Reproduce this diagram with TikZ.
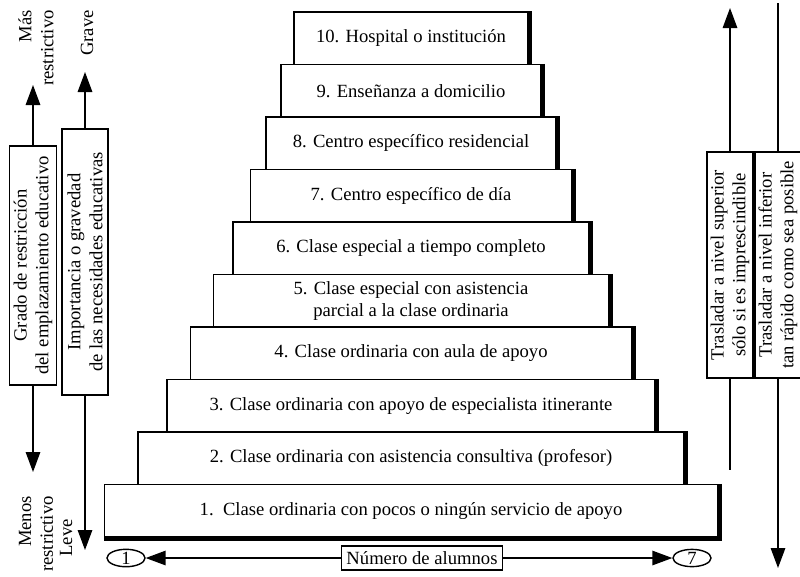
\documentclass[tikz,border=0pt]{standalone}
\usepackage{fontspec}
\setmainfont{Liberation Serif}
\usetikzlibrary{arrows.meta,shapes.geometric}
\begin{document}
\begin{tikzpicture}[x=0.02cm,y=-0.02cm,font=\fontsize{10.6}{12.4}\selectfont]
        \tikzstyle{stepbox}=[draw,line width=0.8pt,minimum height=10.5mm,inner sep=2pt,align=center]
        \tikzstyle{sidebox}=[draw,line width=0.8pt,rotate=90,align=center,inner sep=2pt]
        \tikzstyle{bigarrow}=[line width=0.8pt,-{Triangle[length=4mm,width=2.9mm]}]
        \tikzstyle{plainline}=[line width=0.8pt]
        \tikzstyle{shade}=[line width=2.2pt]
        \tikzstyle{endmark}=[draw,ellipse,line width=0.8pt,minimum width=7.6mm,minimum height=3.4mm,inner sep=0pt]
        \useasboundingbox (0,0) rectangle (800,576);
        \node[stepbox,minimum width=122.6mm] (l1) at (411,510.75) {1.\ \ Clase ordinaria con pocos o ningún servicio de apoyo};
        \node[stepbox,minimum width=109.2mm] (l2) at (411,458.25) {2. Clase ordinaria con asistencia consultiva (profesor)};
        \node[stepbox,minimum width=97.6mm] (l3) at (411,405.75) {3. Clase ordinaria con apoyo de especialista itinerante};
        \node[stepbox,minimum width=88.2mm] (l4) at (411,353.25) {4. Clase ordinaria con aula de apoyo};
        \node[stepbox,minimum width=79mm] (l5) at (411,300.75) {5. Clase especial con asistencia\\ parcial a la clase ordinaria};
        \node[stepbox,minimum width=71.2mm] (l6) at (411,248.25) {6. Clase especial a tiempo completo};
        \node[stepbox,minimum width=64.2mm] (l7) at (411,195.75) {7. Centro específico de día};
        \node[stepbox,minimum width=58mm] (l8) at (411,143.25) {8. Centro específico residencial};
        \node[stepbox,minimum width=52mm] (l9) at (411,90.75) {9. Enseñanza a domicilio};
        \node[stepbox,minimum width=46.8mm] (l10) at (411,38.25) {10. Hospital o institución};
        \foreach \i in {1,...,10}
            \draw[shade] ([xshift=1pt]l\i.north east) -- ([xshift=1pt]l\i.south east);
        \draw[shade] ([yshift=-1pt]l1.south west) -- ([xshift=2.1pt,yshift=-1pt]l1.south east);

        \node[sidebox,minimum width=47.8mm,minimum height=9.4mm] (grado) at (33,265.5) {Grado de restricción\\del emplazamiento educativo};
        \node[sidebox,minimum width=53.2mm,minimum height=9.2mm] (importancia) at (85,262) {Importancia o gravedad\\de las necesidades educativas};
        \node[sidebox,minimum width=45.2mm,minimum height=9mm] (superior) at (730,265) {Trasladar a nivel superior\\sólo si es imprescindible};
        \node[sidebox,minimum width=45.2mm,minimum height=8.2mm] (inferior) at (778,265) {Trasladar a nivel inferior\\tan rápido como sea posible};

        \node[rotate=90,anchor=east,align=right] (mas) at (36,4) {Más\\restrictivo};
        \node[rotate=90,anchor=east,align=right] (menos) at (36,490) {Menos\\restrictivo};
        \node[rotate=90,anchor=west] (grave) at (87,62) {Grave};
        \node[rotate=90] (leve) at (66,538) {Leve};

        \coordinate (masTip) at (33,85);
        \coordinate (menosTip) at (33,472);
        \coordinate (graveTip) at (85,72);
        \coordinate (leveTip) at (85,550);
        \coordinate (subeTip) at (730,8);
        \coordinate (subeEnd) at (730,470);
        \coordinate (bajaTop) at (778,3);
        \coordinate (bajaTip) at (778,568);
        \draw[bigarrow] (grado.east) -- (masTip);
        \draw[bigarrow] (grado.west) -- (menosTip);
        \draw[bigarrow] (importancia.east) -- (graveTip);
        \draw[bigarrow] (importancia.west) -- (leveTip);
        \draw[bigarrow] (superior.east) -- (subeTip);
        \draw[plainline] (superior.west) -- (subeEnd);
        \draw[plainline] (bajaTop) -- (inferior.east);
        \draw[bigarrow] (inferior.west) -- (bajaTip);

        \node[draw,line width=0.8pt,inner sep=3pt] (alumnos) at (422,558) {Número de alumnos};
        \node[endmark] (uno) at (126,558) {1};
        \node[endmark] (siete) at (692,558) {7};
        \draw[bigarrow] (alumnos) -- (uno);
        \draw[bigarrow] (alumnos) -- (siete);
    \end{tikzpicture}
\end{document}
